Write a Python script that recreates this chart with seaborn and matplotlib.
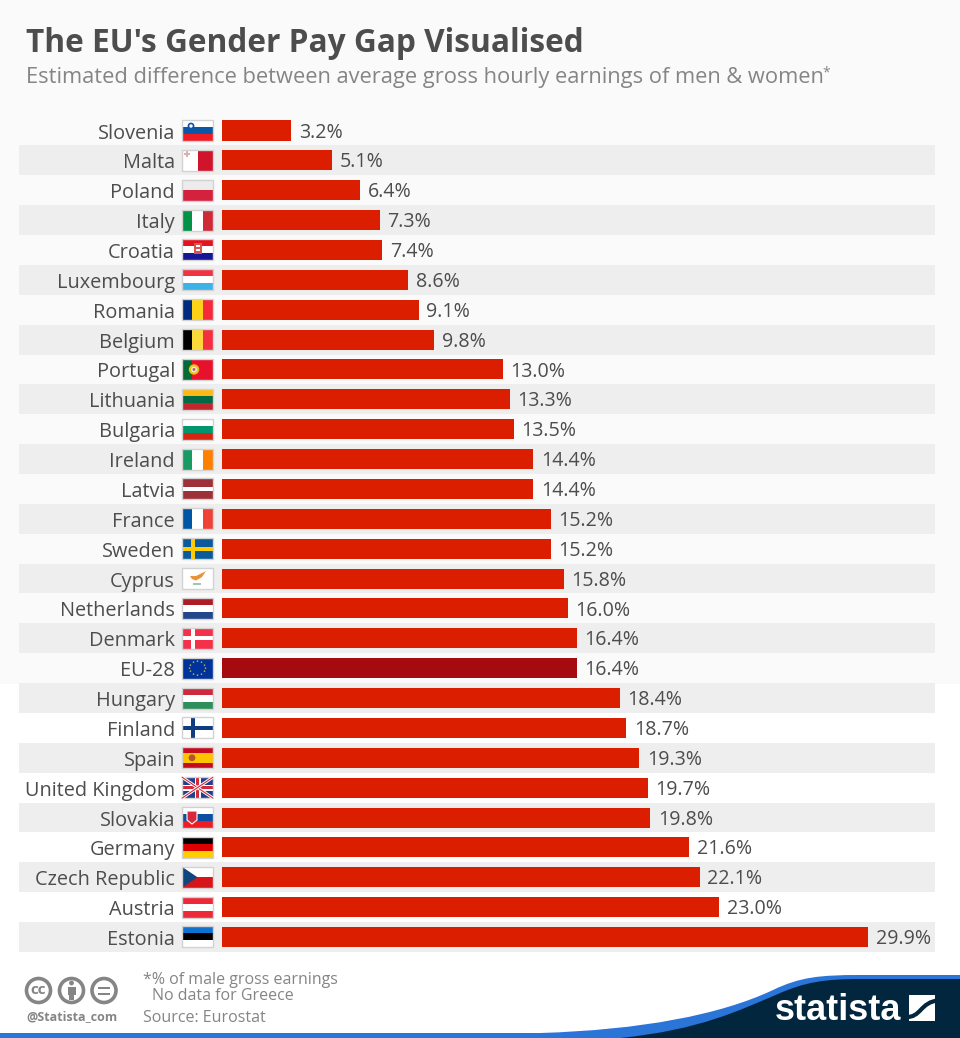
import matplotlib
matplotlib.use('Agg')
import matplotlib.pyplot as plt
import pandas as pd
import seaborn as sns
from matplotlib.patches import Circle, PathPatch, Polygon, Rectangle
from matplotlib.path import Path
from matplotlib.transforms import ScaledTranslation

# Data
countries = ['Slovenia', 'Malta', 'Poland', 'Italy', 'Croatia', 'Luxembourg', 'Romania',
             'Belgium', 'Portugal', 'Lithuania', 'Bulgaria', 'Ireland', 'Latvia', 'France',
             'Sweden', 'Cyprus', 'Netherlands', 'Denmark', 'EU-28', 'Hungary', 'Finland',
             'Spain', 'United Kingdom', 'Slovakia', 'Germany', 'Czech Republic', 'Austria',
             'Estonia']
pay_gap = [3.2, 5.1, 6.4, 7.3, 7.4, 8.6, 9.1, 9.8, 13.0, 13.3, 13.5, 14.4, 14.4, 15.2, 15.2,
           15.8, 16.0, 16.4, 16.4, 18.4, 18.7, 19.3, 19.7, 19.8, 21.6, 22.1, 23.0, 29.9]

RED = '#dc1e00'
DARK_RED = '#a50a0e'
BAND = '#eeeeee'
TEXT = '#4d4d4d'
GREY = '#858585'
NAVY = '#03263f'
BLUE = '#2b74d8'

# stripes of each flag, (direction, colours)
flags = {
    'Slovenia': ('h', ['#ffffff', '#0a57a5', '#ee1c25']),
    'Malta': ('v', ['#ffffff', '#cf142b']),
    'Poland': ('h', ['#ececec', '#d4213d']),
    'Italy': ('v', ['#009246', '#ffffff', '#ce2b37']),
    'Croatia': ('h', ['#e4121d', '#ffffff', '#171796']),
    'Luxembourg': ('h', ['#ef3340', '#ffffff', '#3db2e6']),
    'Romania': ('v', ['#002b7f', '#fcd116', '#f42a3a']),
    'Belgium': ('v', ['#000000', '#fcd83a', '#f42f3f']),
    'Portugal': ('v', ['#046a38', '#e8112d', '#e8112d']),
    'Lithuania': ('h', ['#fdb913', '#006a44', '#c1272d']),
    'Bulgaria': ('h', ['#ffffff', '#00966e', '#d62612']),
    'Ireland': ('v', ['#169b62', '#ffffff', '#ff7f00']),
    'Latvia': ('h', ['#9e3039', '#9e3039', '#ffffff', '#9e3039', '#9e3039']),
    'France': ('v', ['#0055a4', '#ffffff', '#ef4135']),
    'Sweden': ('h', ['#0b5a9c']),
    'Cyprus': ('h', ['#ffffff']),
    'Netherlands': ('h', ['#ae1c28', '#ffffff', '#21468b']),
    'Denmark': ('h', ['#f4304a']),
    'EU-28': ('h', ['#003399']),
    'Hungary': ('h', ['#cd2a3e', '#ffffff', '#2f8f5b']),
    'Finland': ('h', ['#ffffff']),
    'Spain': ('h', ['#c60b1e', '#ffc400', '#ffc400', '#c60b1e']),
    'United Kingdom': ('h', ['#1f3f8f']),
    'Slovakia': ('h', ['#ffffff', '#0b4ea2', '#ee1c25']),
    'Germany': ('h', ['#000000', '#dd0000', '#ffce00']),
    'Czech Republic': ('h', ['#ffffff', '#d7141a']),
    'Austria': ('h', ['#ed2939', '#ffffff', '#ed2939']),
    'Estonia': ('h', ['#0f72ce', '#000000', '#ffffff']),
}

sns.set_style('white')
plt.rcParams['font.family'] = ['Open Sans', 'DejaVu Sans']

W, H = 960, 1038
fig = plt.figure(figsize=(W / 100, H / 100), dpi=100, facecolor='white')

# pixel-coordinate layers for everything that is not the chart itself
bg = fig.add_axes([0, 0, 1, 1], zorder=0)
fg = fig.add_axes([0, 0, 1, 1], zorder=3)
for a in (bg, fg):
    a.set_xlim(0, W)
    a.set_ylim(H, 0)
    a.axis('off')
    a.patch.set_alpha(0)

bg.add_patch(Rectangle((0, 0), W, 684, color='#fafafa', lw=0))

# chart axes
row_h = 29.87
top = 130.5 - row_h / 2
bottom = top + row_h * len(countries)
left, right = 222, 935
ax = fig.add_axes([left / W, 1 - bottom / H, (right - left) / W, (bottom - top) / H], zorder=1)
ax.patch.set_alpha(0)

df = pd.DataFrame({'country': countries, 'gap': pay_gap})
colors = [DARK_RED if c == 'EU-28' else RED for c in countries]
sns.barplot(data=df, x='gap', y='country', hue='country', palette=colors, dodge=False,
            width=0.67, legend=False, saturation=1, linewidth=0, ax=ax)
ax.set_xlim(0, (right - left) / 21.62)
ax.set_ylim(len(countries) - 0.5, -0.5)
ax.set_xlabel('')
ax.set_ylabel('')
ax.set_xticks([])
sns.despine(ax=ax, left=True, bottom=True, right=True, top=True)
ax.tick_params(axis='y', length=0, pad=33.8, labelsize=14.3, labelcolor=TEXT)

nudge = ScaledTranslation(0, -0.5 / 100, fig.dpi_scale_trans)
for lab in ax.get_yticklabels():
    lab.set_transform(lab.get_transform() + nudge)

for container in ax.containers:
    for t in ax.bar_label(container, fmt='%.1f%%', padding=5.5, fontsize=14.1, color=TEXT,
                          clip_on=False):
        t.xyann = (t.xyann[0], -1.5)

# alternate row bands reach left under the country names
for i in range(1, len(countries), 2):
    ax.axhspan(i - 0.5, i + 0.5, xmin=-(left - 19) / (right - left), xmax=1,
               color=BAND, lw=0, zorder=0, clip_on=False)


def draw_flag(name, cy):
    x0, w, h = 182, 31, 21
    y0 = cy - h / 2
    kind, cols = flags[name]
    n = len(cols)
    for k, c in enumerate(cols):
        if kind == 'h':
            fg.add_patch(Rectangle((x0, y0 + k * h / n), w, h / n, color=c, lw=0))
        else:
            fg.add_patch(Rectangle((x0 + k * w / n, y0), w / n, h, color=c, lw=0))

    def rect(x, y, rw, rh, c):
        fg.add_patch(Rectangle((x0 + x, y0 + y), rw, rh, color=c, lw=0))

    def dot(x, y, r, c):
        fg.add_patch(Circle((x0 + x, y0 + y), r, color=c, lw=0))

    if name == 'Slovenia':
        dot(9, 6, 3.4, '#0a57a5')
        dot(9, 6, 1.7, '#ffffff')
    elif name == 'Malta':
        rect(2, 3.3, 6, 1.4, '#d8b0b0')
        rect(4.3, 1, 1.4, 6, '#d8b0b0')
    elif name == 'Croatia':
        rect(11.5, 4, 8, 11, '#d9534f')
        rect(13.5, 6, 4, 2, '#ffffff')
        rect(13.5, 10, 4, 2, '#ffffff')
    elif name == 'Portugal':
        dot(12, 10.5, 5.2, '#e6c410')
        dot(12, 10.5, 3, '#e8e8e8')
        dot(12, 10.5, 1.4, '#c8504a')
    elif name == 'Sweden':
        rect(8.5, 0, 4.5, h, '#fecc00')
        rect(0, 8.5, w, 4, '#fecc00')
    elif name == 'Cyprus':
        fg.add_patch(Polygon([(x0 + 8, y0 + 8), (x0 + 14, y0 + 8), (x0 + 24, y0 + 3),
                              (x0 + 20, y0 + 9), (x0 + 14, y0 + 12.5), (x0 + 10, y0 + 11)],
                             color='#e8923a', lw=0))
        rect(11, 15, 8, 1.6, '#9fc7b0')
    elif name == 'Denmark':
        rect(8.5, 0, 4, h, '#ffffff')
        rect(0, 8.5, w, 4, '#ffffff')
    elif name == 'EU-28':
        stars = [(15.5, 3.5), (19.5, 4.5), (22.5, 7.5), (23.5, 10.5), (22.5, 13.5), (19.5, 16.5),
                 (15.5, 17.5), (11.5, 16.5), (8.5, 13.5), (7.5, 10.5), (8.5, 7.5), (11.5, 4.5)]
        for sx, sy in stars:
            dot(sx, sy, 0.8, '#c9b437')
    elif name == 'Finland':
        rect(8.5, 0, 4.5, h, '#0f3d80')
        rect(0, 8.5, w, 4, '#0f3d80')
    elif name == 'Spain':
        dot(10, 10.5, 3.4, '#b5562a')
    elif name == 'United Kingdom':
        for sign in (1, -1):
            fg.plot([x0, x0 + w], [cy - sign * h / 2, cy + sign * h / 2], color='#ffffff', lw=2.2)
            fg.plot([x0, x0 + w], [cy - sign * h / 2, cy + sign * h / 2], color='#d8283c', lw=0.8)
        rect(12.5, 0, 6, h, '#ffffff')
        rect(0, 7.5, w, 6, '#ffffff')
        rect(14, 0, 3, h, '#d8283c')
        rect(0, 9, w, 3, '#d8283c')
    elif name == 'Slovakia':
        fg.add_patch(Polygon([(x0 + 5, y0 + 4), (x0 + 15, y0 + 4), (x0 + 15, y0 + 13),
                              (x0 + 10, y0 + 17), (x0 + 5, y0 + 13)],
                             facecolor='#d8283c', edgecolor='#ffffff', lw=0.8))
    elif name == 'Czech Republic':
        fg.add_patch(Polygon([(x0, y0), (x0 + 15.5, cy), (x0, y0 + h)], color='#11457e', lw=0))
    fg.add_patch(Rectangle((x0, y0), w, h, fill=False, edgecolor='#d2d2d2', lw=1))


for i, name in enumerate(countries):
    draw_flag(name, top + row_h * (i + 0.5))

# headings
fg.text(26, 44, "The EU's Gender Pay Gap Visualised", fontsize=22.8, fontweight='bold',
        color=TEXT, va='center', ha='left')
fg.text(26, 78, 'Estimated difference between average gross hourly earnings of men & women',
        fontsize=15.72, color=GREY, va='center', ha='left')
fg.text(822, 73, '*', fontsize=10, color=GREY, va='center', ha='left')

# footer notes
fg.text(143, 980, '*% of male gross earnings', fontsize=11.5, color=GREY, va='center')
fg.text(152, 996, 'No data for Greece', fontsize=11.5, color=GREY, va='center')
fg.text(143, 1018, 'Source: Eurostat', fontsize=11.5, color=GREY, va='center')
fg.text(26, 1017, '@Statista_com', fontsize=9, fontweight='bold', color=GREY, va='center')

# licence icons
for cx in (38.5, 71.5, 104):
    fg.add_patch(Circle((cx, 990.5), 12, fill=False, edgecolor=GREY, lw=2.6))
fg.text(38.5, 990, 'cc', fontsize=11, fontweight='bold', color=GREY, ha='center', va='center')
fg.add_patch(Circle((71.5, 983), 2.4, color=GREY, lw=0))
fg.add_patch(Rectangle((67.5, 986.5), 8, 8, color=GREY, lw=0))
fg.add_patch(Rectangle((69, 994), 5, 6, color=GREY, lw=0))
fg.add_patch(Rectangle((98, 986.5), 12, 2.6, color=GREY, lw=0))
fg.add_patch(Rectangle((98, 992.5), 12, 2.6, color=GREY, lw=0))

# blue strip and swoosh
blue_path = Path([(0, 1033), (540, 1033), (640, 1030), (720, 1015), (773, 990), (800, 977),
                  (820, 975), (860, 975), (960, 975), (960, 1038), (0, 1038), (0, 1033)],
                 [Path.MOVETO, Path.LINETO, Path.CURVE4, Path.CURVE4, Path.CURVE4, Path.CURVE4,
                  Path.CURVE4, Path.CURVE4, Path.LINETO, Path.LINETO, Path.LINETO, Path.CLOSEPOLY])
fg.add_patch(PathPatch(blue_path, facecolor=BLUE, lw=0))
navy_path = Path([(620, 1038), (700, 1030), (740, 1010), (778, 994), (805, 982), (825, 979),
                  (860, 979), (960, 979), (960, 1038), (620, 1038)],
                 [Path.MOVETO, Path.CURVE4, Path.CURVE4, Path.CURVE4, Path.CURVE4, Path.CURVE4,
                  Path.CURVE4, Path.LINETO, Path.LINETO, Path.CLOSEPOLY])
fg.add_patch(PathPatch(navy_path, facecolor=NAVY, lw=0))

fg.text(775, 1010, 'statista', fontsize=26, fontweight='bold', color='white', va='center',
        ha='left', family=['Liberation Sans Narrow', 'Liberation Sans'])
logo_box = Rectangle((909, 995), 26, 26, color='white', lw=0)
fg.add_patch(logo_box)
logo = Path([(905, 1017), (922, 1018), (919, 1002), (940, 1000)],
            [Path.MOVETO, Path.CURVE4, Path.CURVE4, Path.CURVE4])
fg.add_patch(PathPatch(logo, facecolor='none', edgecolor=NAVY, lw=3, clip_path=logo_box))

fig.savefig('out.png', dpi=100, facecolor='white')
